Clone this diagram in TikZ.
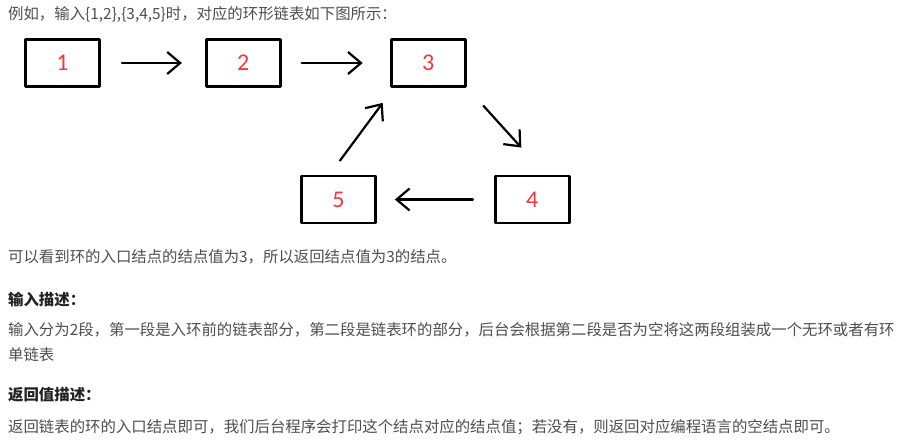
\documentclass[tikz,border=0pt]{standalone}
\usepackage{fontspec}
\setmainfont{Noto Sans CJK SC}
\newfontfamily\numfont{Carlito}
\usepackage{xcolor}
\usetikzlibrary{positioning, arrows.meta}
\definecolor{bodygray}{HTML}{4D4D4D}
\definecolor{headgray}{HTML}{222222}
\definecolor{numred}{HTML}{F5363E}

\begin{document}
\begin{tikzpicture}[x=1pt, y=-1pt, >={Straight Barb[length=13pt,width=22pt]}, line cap=round, line join=round]
\tikzset{
  listnode/.style={draw=black, line width=2.8pt, rectangle, minimum width=74pt, minimum height=47pt, inner sep=0pt, font=\numfont\fontsize{24}{24}\selectfont, text=numred},
  link/.style={->, line width=2.2pt},
  bodytext/.style={anchor=west, inner sep=0pt, text=bodygray, font=\fontsize{15.4}{18}\selectfont},
  headtext/.style={anchor=west, inner sep=0pt, text=headgray, font=\bfseries\fontsize{15.4}{18}\selectfont}
}
\useasboundingbox (0,0) rectangle (904,445);
\node[bodytext] (intro) at (8,14) {例如，输入\{1,2\},\{3,4,5\}时，对应的环形链表如下图所示：};
% the list and its ring
\node[listnode] (n1) at (62.5,63) {1};
\node[listnode, right=104pt of n1] (n2) {2};
\node[listnode, right=108pt of n2] (n3) {3};
\node[listnode] (n5) at (338.5,199.5) {5};
\node[listnode, right=117pt of n5] (n4) {4};
\draw[link, shorten <=21pt, shorten >=23pt] (n1) -- (n2);
\draw[link, shorten <=20pt, shorten >=27pt] (n2) -- (n3);
\draw[link] ([shift={(17,18)}]n3.south east) -- ([shift={(-11,-27)}]n4.north);
\draw[link, shorten <=21pt, shorten >=18pt] (n4.west) -- (n5.east);
\draw[link] ([shift={(1.5,-14)}]n5.north) -- ([shift={(-7,15)}]n3.south west);
% text below
\node[bodytext] (seen) at (8,257) {可以看到环的入口结点的结点值为3，所以返回结点值为3的结点。};
\node[headtext] (inhead) at (8,300) {输入描述：};
\node[bodytext] (indesc) at (8,330) {输入分为2段，第一段是入环前的链表部分，第二段是链表环的部分，后台会根据第二段是否为空将这两段组装成一个无环或者有环};
\node[bodytext] (indesc2) at (8,355) {单链表};
\node[headtext] (rethead) at (8,395) {返回值描述：};
\node[bodytext] (retdesc) at (8,427) {返回链表的环的入口结点即可，我们后台程序会打印这个结点对应的结点值；若没有，则返回对应编程语言的空结点即可。};
\end{tikzpicture}
\end{document}
